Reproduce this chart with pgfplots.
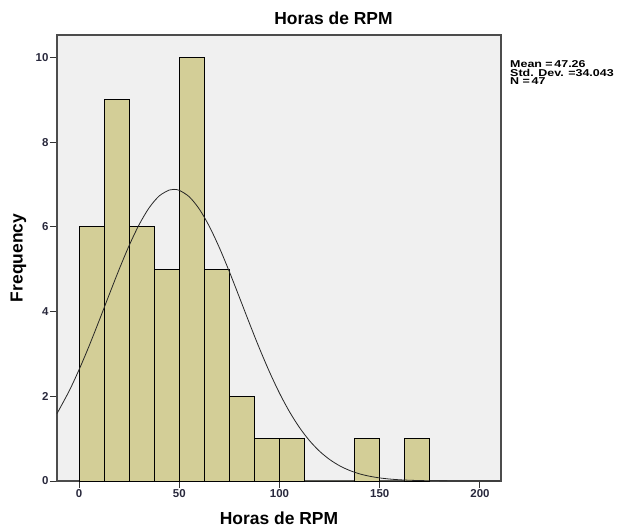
\documentclass[border=0pt]{standalone}
\usepackage{pgfplots}
\pgfplotsset{compat=1.18}
\usepackage{fontspec}
\setmainfont{Liberation Sans}
\newfontfamily\statfont[FakeStretch=1.25]{Liberation Sans}
\definecolor{bgcol}{RGB}{240,240,240}
\definecolor{barcol}{RGB}{211,206,151}
\definecolor{tickcol}{RGB}{40,40,60}

\begin{document}
\begin{tikzpicture}
\path[use as bounding box] (0,0) rectangle (618bp,527bp);
\begin{axis}[
    at={(57bp,46bp)}, anchor=south west,
    width=444bp, height=446bp, scale only axis,
    xmin=-11, xmax=210.5, ymin=0, ymax=10.53,
    axis background/.style={fill=bgcol},
    axis line style={draw=black!70, line width=1.5pt},
    tick align=outside, major tick length=7bp,
    tick style={draw=black!80, line width=1pt},
    xtick={0,50,100,150,200}, ytick={0,2,4,6,8,10},
    xtick pos=bottom, ytick pos=left,
    ticklabel style={font=\bfseries\fontsize{11.5}{12}\selectfont, text=tickcol},
    xticklabel style={yshift=2bp},
    yticklabel style={xshift=2bp},
    /pgf/number format/assume math mode=true,
    clip=false,
]
% histogram, bin width 12.5
\addplot[ybar interval, fill=barcol, draw=black, line width=0.9pt] coordinates {
    (0,6) (12.5,9) (25,6) (37.5,5) (50,10) (62.5,5) (75,2) (87.5,1)
    (100,1) (112.5,0) (125,0) (137.5,1) (150,0) (162.5,1) (175,0)
};
% normal curve, mean 47.26, sd 34.043
\addplot[black!85, line width=0.8pt, smooth] coordinates {
    (-11,1.592) (-5,2.119) (0,2.627) (5,3.186) (10,3.783) (15,4.395)
    (20,4.996) (25,5.560) (30,6.055) (35,6.453) (40,6.730) (45,6.870)
    (47.26,6.885) (50,6.863) (55,6.709) (60,6.420) (65,6.011) (70,5.508)
    (75,4.940) (80,4.336) (85,3.724) (90,3.131) (95,2.576) (100,2.074)
    (105,1.634) (110,1.260) (115,0.951) (120,0.702) (125,0.508) (130,0.359)
    (135,0.249) (140,0.168) (145,0.112) (150,0.0725) (155,0.046) (160,0.0286)
    (165,0.0174) (170,0.0104) (175,0.006) (180,0.0034) (190,0.001) (200,0.0003) (210,0.0001)
};
\end{axis}
\node[font=\bfseries\fontsize{17.5}{20}\selectfont, anchor=base] at (333.5bp,502bp) {Horas de RPM};
\node[font=\bfseries\fontsize{17.5}{20}\selectfont, anchor=base] at (279bp,2.7bp) {Horas de RPM};
\node[font=\bfseries\fontsize{17.5}{20}\selectfont, rotate=90, anchor=base] at (22.7bp,269bp) {Frequency};
\node[font=\statfont\bfseries\fontsize{10}{8.7}\selectfont, anchor=base west, align=left, inner sep=0pt]
    at (510bp,442bp) {Mean =\,47.26\\Std. Dev. =34.043\\N =\,47};
\end{tikzpicture}
\end{document}
